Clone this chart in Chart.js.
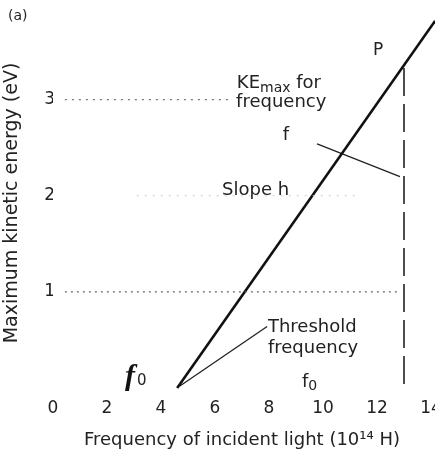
<!DOCTYPE html>
<html>
<head>
<meta charset="utf-8">
<script src="https://cdn.jsdelivr.net/npm/chart.js@4.4.1/dist/chart.umd.min.js"></script>
<style>
  html, body { margin: 0; padding: 0; background: #fff; }
  canvas { display: block; }
</style>
</head>
<body>
<canvas id="myChart" width="435" height="457"></canvas>
<script>
// ticks
var freqTicks = [0, 2, 4, 6, 8, 10, 12, 14];
var energyTicks = [1, 2, 3];

// KE max against frequency
var lineFreq = [4.6, 14.15];
var lineEnergy = [0, 3.82];

// point P and the dashed drop to the axis
var dropFreq = [13, 13];
var dropEnergy = [3.33, -0.04];

// pointer lines for the notes
var kePointerFreq = [9.78, 12.85];
var kePointerEnergy = [2.54, 2.2];
var threshPointerFreq = [4.7, 7.93];
var threshPointerEnergy = [0.02, 0.64];

// dotted guides at 1, 2 and 3 eV
var guide3Freq = [0.44, 6.63];
var guide3Energy = [3, 3];
var guide2Freq = [3.1, 11.2];
var guide2Energy = [2, 2];
var guide1Freq = [0.44, 12.85];
var guide1Energy = [1, 1];

function pts(xs, ys) {
  var out = [];
  for (var i = 0; i < xs.length; i++) out.push({ x: xs[i], y: ys[i] });
  return out;
}

function lineSet(xs, ys, color, width, dash) {
  return {
    data: pts(xs, ys),
    showLine: true,
    borderColor: color,
    borderWidth: width,
    borderDash: dash || [],
    pointRadius: 0,
    fill: false,
    clip: false
  };
}

// notes drawn on top, placed in data units
var notes = [
  { text: 'P', x: 12.04, y: 3.47, size: 17, align: 'center' },
  { text: 'frequency', x: 6.78, y: 2.92, size: 18, align: 'left' },
  { text: 'f', x: 8.63, y: 2.58, size: 18, align: 'center' },
  { text: 'Slope h', x: 6.26, y: 2.01, size: 18, align: 'left' },
  { text: 'Threshold', x: 7.96, y: 0.58, size: 18, align: 'left' },
  { text: 'frequency', x: 7.96, y: 0.365, size: 18, align: 'left' }
];

var notesPlugin = {
  id: 'notes',
  afterDatasetsDraw: function(chart) {
    var ctx = chart.ctx;
    var sx = chart.scales.x, sy = chart.scales.y;
    ctx.save();
    ctx.fillStyle = '#222';
    ctx.textBaseline = 'alphabetic';
    notes.forEach(function(n) {
      ctx.font = n.size + 'px "DejaVu Sans"';
      ctx.textAlign = n.align;
      ctx.fillText(n.text, sx.getPixelForValue(n.x), sy.getPixelForValue(n.y));
    });

    // KE with subscript max
    ctx.textAlign = 'left';
    var x0 = sx.getPixelForValue(6.81), y0 = sy.getPixelForValue(3.125);
    ctx.font = '18px "DejaVu Sans"';
    ctx.fillText('KE', x0, y0);
    var w = ctx.measureText('KE').width;
    ctx.font = '14px "DejaVu Sans"';
    ctx.fillText('max', x0 + w, y0 + 4);
    w += ctx.measureText('max').width;
    ctx.font = '18px "DejaVu Sans"';
    ctx.fillText(' for', x0 + w, y0);

    // f0 under threshold frequency
    x0 = sx.getPixelForValue(9.22); y0 = sy.getPixelForValue(0.01);
    ctx.font = '18px "DejaVu Sans"';
    ctx.fillText('f', x0, y0);
    w = ctx.measureText('f').width;
    ctx.font = '14px "DejaVu Sans"';
    ctx.fillText('0', x0 + w, y0 + 3);

    // hand written f0
    x0 = sx.getPixelForValue(2.67); y0 = sy.getPixelForValue(0.03);
    ctx.fillStyle = '#111';
    ctx.font = 'italic bold 30px "Liberation Serif"';
    ctx.fillText('f', x0, y0);
    w = ctx.measureText('f').width;
    ctx.font = '15px "DejaVu Sans"';
    ctx.fillStyle = '#222';
    ctx.fillText('0', x0 + w + 2, y0);

    // panel label
    ctx.font = '14px "DejaVu Sans"';
    ctx.fillText('(a)', 8, 20);
    ctx.restore();
  }
};

var whiteBg = {
  id: 'whiteBg',
  beforeDraw: function(chart) {
    var ctx = chart.ctx;
    ctx.save();
    ctx.fillStyle = '#fff';
    ctx.fillRect(0, 0, chart.width, chart.height);
    ctx.restore();
  }
};

Chart.defaults.font.family = '"DejaVu Sans"';
Chart.defaults.color = '#222';

var ctx = document.getElementById('myChart').getContext('2d');
var myChart = new Chart(ctx, {
  type: 'scatter',
  data: {
    datasets: [
      lineSet(guide3Freq, guide3Energy, '#777', 1.2, [2, 5]),
      lineSet(guide2Freq, guide2Energy, '#ccc', 1, [2, 6]),
      lineSet(guide1Freq, guide1Energy, '#666', 1.2, [2, 4]),
      lineSet(lineFreq, lineEnergy, '#111', 2.6),
      lineSet(dropFreq, dropEnergy, '#222', 1.6, [28, 8]),
      lineSet(kePointerFreq, kePointerEnergy, '#222', 1.3),
      lineSet(threshPointerFreq, threshPointerEnergy, '#222', 1.3)
    ]
  },
  options: {
    responsive: false,
    animation: false,
    layout: { padding: { top: 18, right: 4, left: 0, bottom: 0 } },
    plugins: { legend: { display: false }, tooltip: { enabled: false } },
    scales: {
      x: {
        type: 'linear',
        min: 0,
        max: 14,
        grid: { display: false, drawTicks: false },
        border: { display: false },
        ticks: { font: { size: 17 }, padding: 10, maxRotation: 0 },
        afterBuildTicks: function(axis) {
          axis.ticks = freqTicks.map(function(v) { return { value: v }; });
        },
        afterFit: function(scale) {
          scale.height = 69;
          scale.paddingLeft = 0;
          scale.paddingRight = 0;
        },
        title: {
          display: true,
          text: 'Frequency of incident light (10\u00b9\u2074 H)',
          font: { size: 18 },
          padding: { top: 0, bottom: 6 }
        }
      },
      y: {
        type: 'linear',
        min: 0,
        max: 3.85,
        grid: { display: false, drawTicks: false },
        border: { display: false },
        ticks: { font: { size: 17 }, padding: -2 },
        afterBuildTicks: function(axis) {
          axis.ticks = energyTicks.map(function(v) { return { value: v }; });
        },
        afterFit: function(scale) {
          scale.width = 53;
          scale.paddingTop = 0;
          scale.paddingBottom = 0;
        },
        title: {
          display: true,
          text: 'Maximum kinetic energy (eV)',
          font: { size: 19 },
          padding: { top: 1, bottom: 0 }
        }
      }
    }
  },
  plugins: [whiteBg, notesPlugin]
});
</script>
</body>
</html>
